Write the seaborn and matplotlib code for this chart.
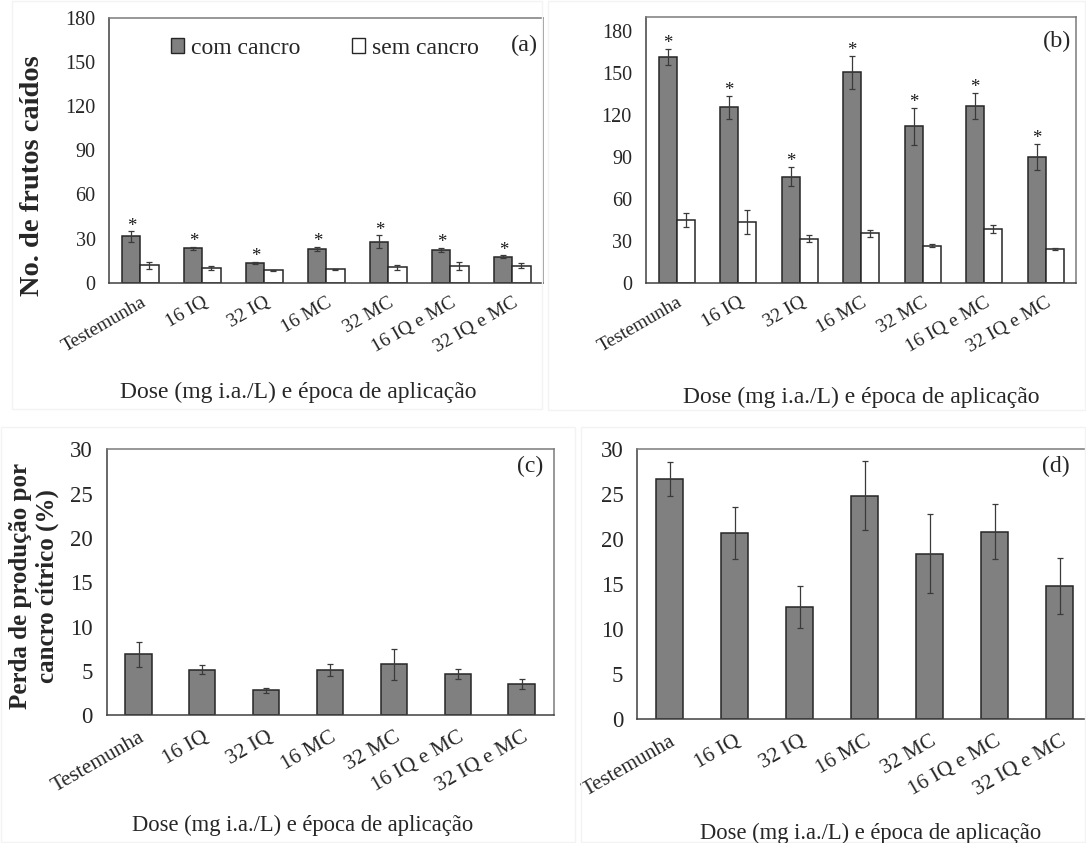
import numpy as np
import pandas as pd
import matplotlib
matplotlib.use("Agg")
import matplotlib.pyplot as plt
from matplotlib.patches import Patch, Rectangle
from matplotlib.ticker import FixedLocator, NullFormatter
import seaborn as sns

# ---- data ----
tratamentos = ["Testemunha", "16 IQ", "32 IQ", "16 MC", "32 MC", "16 IQ e MC", "32 IQ e MC"]

# (a) fallen fruits, first season
a_com = [31.5, 23.5, 13.7, 22.8, 28.0, 22.1, 17.6]
a_com_err = [3.5, 1.0, 0.7, 1.5, 4.2, 1.5, 1.1]
a_sem = [11.9, 9.8, 8.4, 9.1, 10.5, 11.4, 11.6]
a_sem_err = [2.3, 1.3, 0.5, 0.2, 1.6, 3.0, 1.6]

# (b) fallen fruits, second season
b_com = [161.5, 125.7, 76.0, 150.7, 112.0, 126.7, 90.0]
b_com_err = [5.7, 8.3, 7.0, 11.7, 13.2, 9.3, 9.4]
b_sem = [45.0, 43.5, 31.5, 35.3, 26.5, 38.3, 24.0]
b_sem_err = [4.8, 8.6, 2.6, 2.4, 1.2, 2.9, 0.7]

# (c), (d) production loss (%)
c_perda = [6.9, 5.15, 2.8, 5.1, 5.75, 4.65, 3.55]
c_perda_err = [1.4, 0.5, 0.25, 0.65, 1.75, 0.55, 0.55]
d_perda = [26.7, 20.7, 12.45, 24.85, 18.4, 20.85, 14.8]
d_perda_err = [1.85, 2.9, 2.35, 3.8, 4.4, 3.05, 3.15]

grupos = ["com cancro", "sem cancro"]
y_ticks_ab = [0, 30, 60, 90, 120, 150, 180]
y_ticks_cd = [0, 5, 10, 15, 20, 25, 30]
xlabel = "Dose (mg i.a./L) e época de aplicação"

# ---- style ----
sns.set_style("white")
plt.rcParams["font.family"] = ["Liberation Serif", "DejaVu Serif"]

GRAY = "#808080"
EDGE = "#262626"
ERR = "#3a3a3a"
AX_DARK = "#404040"
AX_LIGHT = "#7a7a7a"

W, H = 1086, 843
fig = plt.figure(figsize=(W / 100, H / 100), dpi=100)


def px_axes(left, top, right, bottom):
    return fig.add_axes([left / W, 1 - bottom / H, (right - left) / W, (bottom - top) / H])


# faint chart-area frames
for (x0, y0, x1, y1) in [(12, 1, 542, 409), (548, 1, 1085, 410), (1, 427, 575, 842), (581, 427, 1085, 842)]:
    fig.add_artist(Rectangle((x0 / W, 1 - y1 / H), (x1 - x0) / W, (y1 - y0) / H,
                             transform=fig.transFigure, fill=False, edgecolor="#f3f3f3", lw=1))


def style_axes(ax, ymax, yticks, tick_fs, xtick_fs, pad_x):
    ax.set_xlim(-0.5, len(tratamentos) - 0.5)
    ax.set_ylim(0, ymax)
    ax.set_yticks(yticks)
    ax.set_xticks(range(len(tratamentos)))
    ax.set_xticklabels(tratamentos, rotation=30, ha="right", rotation_mode="anchor",
                       fontsize=xtick_fs)
    ax.xaxis.set_minor_locator(FixedLocator(np.arange(-0.5, len(tratamentos), 1.0)))
    ax.xaxis.set_minor_formatter(NullFormatter())
    ax.tick_params(axis="x", which="major", length=0, pad=pad_x)
    ax.tick_params(axis="x", which="minor", length=5, width=1, color=AX_DARK, direction="out")
    ax.tick_params(axis="y", length=5, width=1, color=AX_DARK, direction="out",
                   labelsize=tick_fs, pad=5)
    for s in ["left", "bottom"]:
        ax.spines[s].set_color(AX_DARK)
        ax.spines[s].set_linewidth(1.1)
    for s in ["top", "right"]:
        ax.spines[s].set_visible(True)
        ax.spines[s].set_color(AX_LIGHT)
        ax.spines[s].set_linewidth(1.1)
    ax.set_xlabel("")
    ax.set_ylabel("")
    ax.grid(False)


def grouped_panel(ax, com, com_err, sem, sem_err, ymax, tag, tag_y):
    df = pd.DataFrame({
        "tratamento": tratamentos * 2,
        "valor": list(com) + list(sem),
        "grupo": [grupos[0]] * len(tratamentos) + [grupos[1]] * len(tratamentos),
    })
    sns.barplot(data=df, x="tratamento", y="valor", hue="grupo", order=tratamentos,
                hue_order=grupos, palette={grupos[0]: GRAY, grupos[1]: "white"},
                saturation=1, width=0.585, edgecolor=EDGE, linewidth=1.1,
                errorbar=None, legend=False, ax=ax)
    for cont, vals, errs, star in [(ax.containers[0], com, com_err, True),
                                   (ax.containers[1], sem, sem_err, False)]:
        xs = [b.get_x() + b.get_width() / 2 for b in cont]
        ax.errorbar(xs, vals, yerr=errs, fmt="none", ecolor=ERR, elinewidth=0.9,
                    capsize=2.5, capthick=0.9, zorder=5)
        if star:
            # significance marker just above each error bar
            for x, v, e in zip(xs, vals, errs):
                ax.annotate("*", (x, v + e), xytext=(0, 0.5), textcoords="offset points",
                            ha="center", va="baseline", fontsize=13.5, color="#1a1a1a")
    style_axes(ax, ymax, y_ticks_ab, 14.5, 14, 8)
    ax.text(0.988, tag_y, tag, transform=ax.transAxes, ha="right", va="center", fontsize=17.5)


def single_panel(ax, vals, errs):
    sns.barplot(x=tratamentos, y=vals, order=tratamentos, color=GRAY, saturation=1,
                width=0.41, edgecolor=EDGE, linewidth=1.1, errorbar=None, ax=ax)
    cont = ax.containers[0]
    xs = [b.get_x() + b.get_width() / 2 for b in cont]
    ax.errorbar(xs, vals, yerr=errs, fmt="none", ecolor=ERR, elinewidth=0.9,
                capsize=2.5, capthick=0.9, zorder=5)
    style_axes(ax, 30, y_ticks_cd, 16.5, 15.5, 9)


# (a)
ax_a = px_axes(109.4, 18.0, 543.4, 282.7)
grouped_panel(ax_a, a_com, a_com_err, a_sem, a_sem_err, 180, "(a)", 0.895)
handles = [Patch(facecolor=GRAY, edgecolor=EDGE, lw=1.0),
           Patch(facecolor="white", edgecolor=EDGE, lw=1.0)]
ax_a.legend(handles, grupos, ncol=2, frameon=False, fontsize=17,
            loc="center left", bbox_to_anchor=(0.12, 0.885),
            handlelength=0.55, handleheight=0.55, handletextpad=0.3,
            columnspacing=2.2, borderaxespad=0)

# (b)
ax_b = px_axes(645.8, 17.3, 1076.4, 282.7)
grouped_panel(ax_b, b_com, b_com_err, b_sem, b_sem_err, 190, "(b)", 0.91)

# (c)
ax_c = px_axes(106.6, 449.3, 553.5, 715.3)
single_panel(ax_c, c_perda, c_perda_err)
ax_c.text(1 - 0.022, 0.935, "(c)", transform=ax_c.transAxes, ha="right", va="center", fontsize=17)

# (d) - plot area runs past the right edge of the canvas
ax_d = px_axes(637.2, 449.3, 1092.2, 719.3)
single_panel(ax_d, d_perda, d_perda_err)
ax_d.text((1070 - 637.2) / 455.0, 0.935, "(d)", transform=ax_d.transAxes,
          ha="right", va="center", fontsize=17)

# axis titles
fig.text(32.5 / W, 1 - 176 / H, "No. de frutos caídos", rotation=90, ha="center",
         va="center", fontsize=20.5, fontweight="bold")
fig.text(34 / W, 1 - 586 / H, "Perda de produção por\ncancro cítrico (%)", rotation=90,
         ha="center", va="center", fontsize=18, fontweight="bold", linespacing=1.15,
         multialignment="center")

for cx, cy, fs in [(298.5, 392, 17), (861, 397, 17), (303, 825, 16.3), (871, 833, 16.3)]:
    fig.text(cx / W, 1 - cy / H, xlabel, ha="center", va="center", fontsize=fs)

fig.savefig("out.png", dpi=100, facecolor="white")
